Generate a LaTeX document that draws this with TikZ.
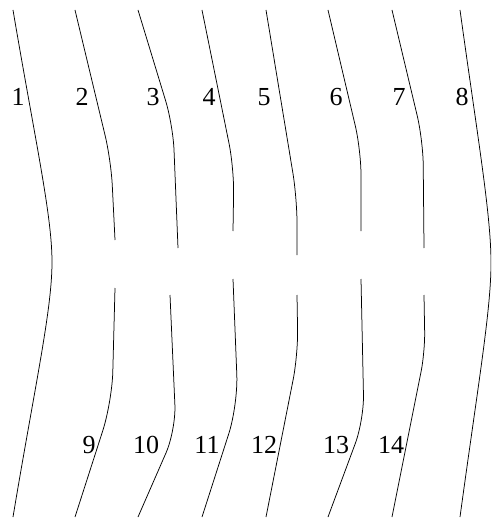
\documentclass[tikz,border=0pt]{standalone}
\usepackage{fontspec}
\setmainfont{Liberation Serif}
\begin{document}
\begin{tikzpicture}[x=1pt,y=-1pt,
  curve/.style={line width=0.75pt, rounded corners=25pt},
  smoothcurve/.style={line width=0.75pt},
  lbl/.style={font=\fontsize{26}{26}\selectfont, inner sep=0pt}]
\useasboundingbox (0,0) rectangle (491,518);
\clip (0,0) rectangle (491,518);
% full-length outer curves
\draw[smoothcurve] (13,10) .. controls (35,140) and (52,215) .. (52,262)
  .. controls (52,310) and (35,385) .. (13,517);
\draw[smoothcurve] (460,10) .. controls (478,140) and (491,215) .. (491,263)
  .. controls (491,310) and (478,385) .. (460,517);
% upper pieces
\draw[curve] (75,10) -- (111,160) -- (115,240);
\draw[curve] (138,10) -- (173,125) -- (178,248);
\draw[curve] (202,10) -- (234,168) -- (233,231);
\draw[curve] (266,10) -- (297,198) -- (297,255);
\draw[curve] (328,10) -- (361,150) -- (361,231);
\draw[curve] (392,10) -- (423,140) -- (424,248);
% lower pieces
\draw[curve,rounded corners=30pt] (115,288) -- (112,402) -- (75,517);
\draw[curve] (170,295) -- (176,430) -- (138,517);
\draw[curve,rounded corners=30pt] (233,279) -- (238,405) -- (202,517);
\draw[curve] (297,295) -- (298,355) -- (266,517);
\draw[curve] (361,279) -- (364,420) -- (328,517);
\draw[curve,rounded corners=20pt] (424,295) -- (425,352) -- (392,517);
% labels
\node[lbl] (n1) at (18,97) {1};
\node[lbl] (n2) at (82,97) {2};
\node[lbl] (n3) at (153,97) {3};
\node[lbl] (n4) at (209,97) {4};
\node[lbl] (n5) at (264,97) {5};
\node[lbl] (n6) at (336,97) {6};
\node[lbl] (n7) at (399,97) {7};
\node[lbl] (n8) at (462,97) {8};
\node[lbl] (n9) at (89,445) {9};
\node[lbl] (n10) at (146,445) {10};
\node[lbl] (n11) at (207,445) {11};
\node[lbl] (n12) at (264,445) {12};
\node[lbl] (n13) at (336,445) {13};
\node[lbl] (n14) at (391,445) {14};
\end{tikzpicture}
\end{document}
